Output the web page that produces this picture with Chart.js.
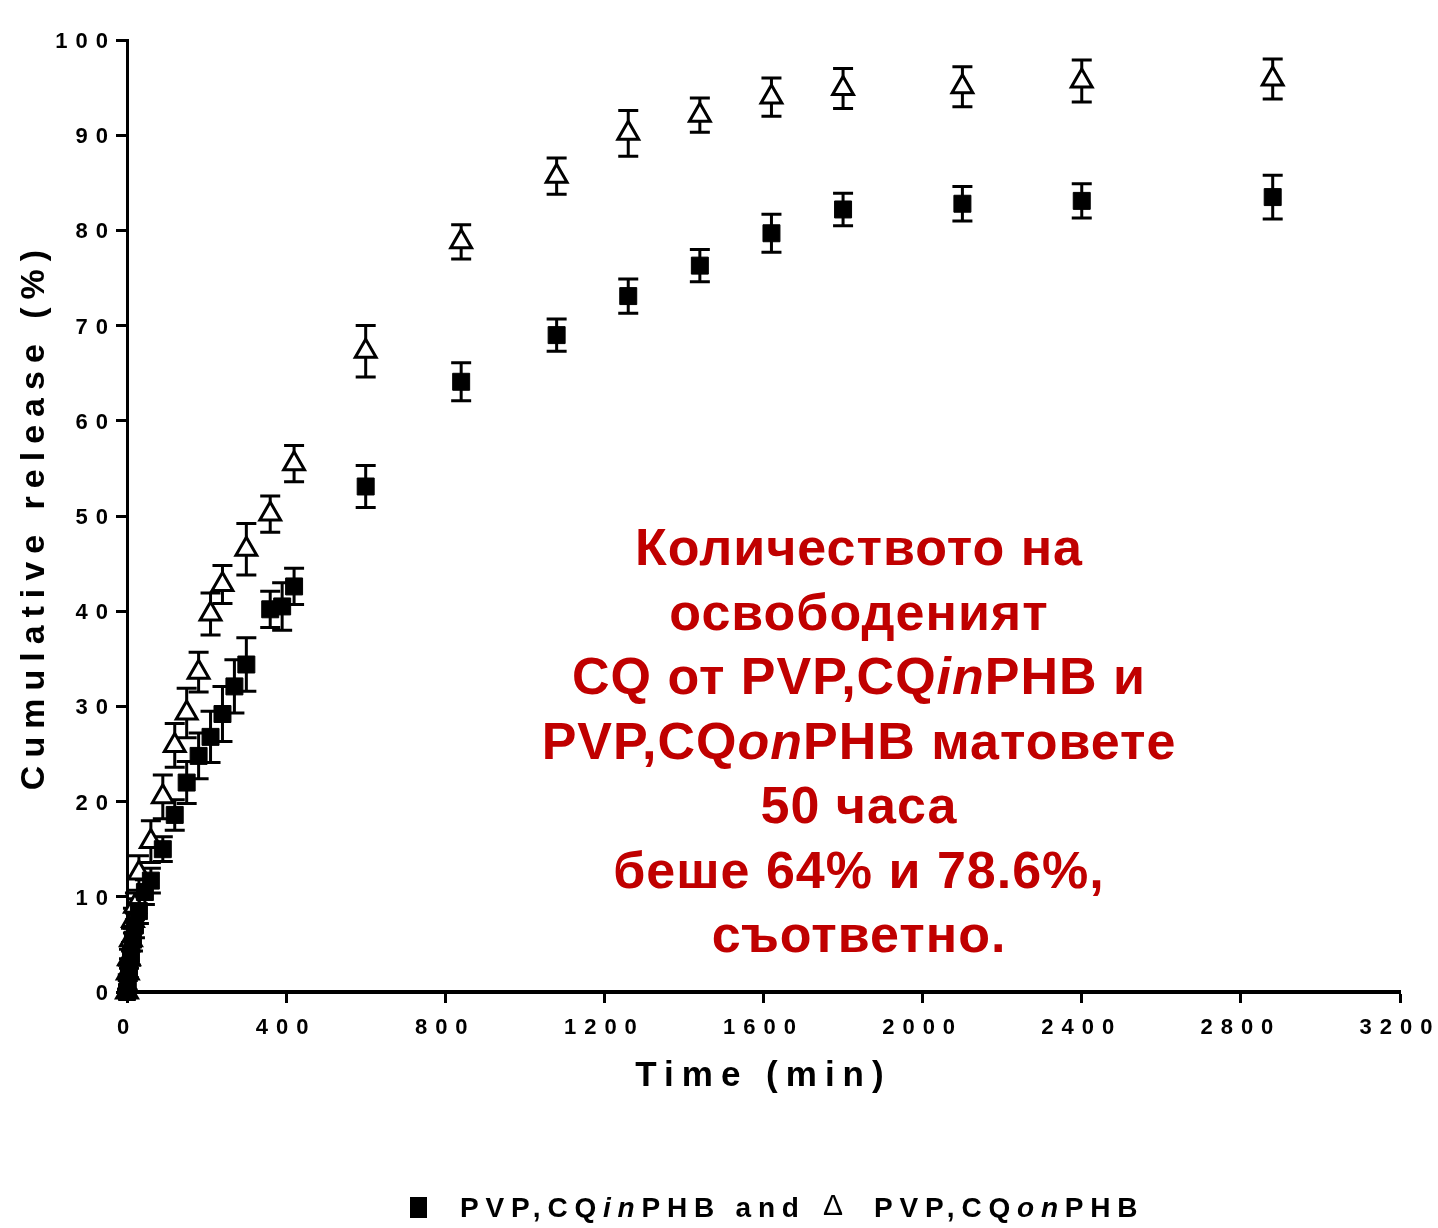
<!DOCTYPE html>
<html>
<head>
<meta charset="utf-8">
<script src="https://cdn.jsdelivr.net/npm/chart.js@4.4.1/dist/chart.umd.min.js"></script>
<style>
  html, body { margin: 0; padding: 0; background: #fff; }
  #wrap { position: relative; width: 1438px; height: 1228px; overflow: hidden; }
  #c { position: absolute; left: 0; top: 0; }
  #note {
    position: absolute; left: 459px; top: 515px; width: 800px;
    text-align: center; font-family: "Liberation Sans", Arial, sans-serif;
    font-weight: bold; font-size: 52px; line-height: 64.5px; letter-spacing: 1px; color: #C00000;
  }
  .leg {
    position: absolute; top: 1194px; font-family: "Liberation Sans", Arial, sans-serif;
    font-weight: bold; font-size: 28px; line-height: 28px; letter-spacing: 6.8px; color: #000; white-space: nowrap;
  }
  #legSq { position: absolute; left: 410px; top: 1197px; width: 17px; height: 21px; background: #000; }
  #legTri { position: absolute; left: 823px; top: 1190px; font-family: "Liberation Sans", Arial, sans-serif;
    font-size: 30px; line-height: 30px; color: #000; }
</style>
</head>
<body>
<div id="wrap">
  <canvas id="c" width="1438" height="1228"></canvas>
  <div id="note">Количеството на<br>освободеният<br>CQ от PVP,CQ<i>in</i>PHB и<br>PVP,CQ<i>on</i>PHB матовете<br>50 часа<br>беше 64% и 78.6%,<br>съответно.</div>
  <div id="legSq"></div>
  <div class="leg" style="left:460px">PVP,CQ<i>in</i>PHB and</div>
  <div id="legTri">Δ</div>
  <div class="leg" style="left:874px">PVP,CQ<i>on</i>PHB</div>
</div>
<script>
// ---- Data ----
const timesIn   = [0, 2, 5, 10, 15, 20, 30, 45, 60, 90, 120, 150, 180, 210, 240, 270, 300, 360, 390, 420, 600, 840, 1080, 1260, 1440, 1620, 1800, 2100, 2400, 2880];
const releaseIn = [0, 1.0, 2.5, 4.0, 5.5, 7.0, 8.5, 10.5, 11.7, 15.0, 18.6, 22.0, 24.8, 26.8, 29.2, 32.1, 34.4, 40.2, 40.5, 42.6, 53.1, 64.1, 69.0, 73.1, 76.3, 79.7, 82.2, 82.8, 83.1, 83.5];
const errorIn   = [0.3, 0.8, 1.0, 1.2, 1.2, 1.3, 1.3, 1.3, 1.3, 1.3, 1.6, 2.2, 2.4, 2.7, 2.9, 2.8, 2.8, 1.9, 2.5, 1.9, 2.2, 2.0, 1.7, 1.8, 1.7, 2.0, 1.7, 1.8, 1.8, 2.3];

const timesOn   = [0, 2, 5, 10, 15, 20, 30, 60, 90, 120, 150, 180, 210, 240, 300, 360, 420, 600, 840, 1080, 1260, 1440, 1620, 1800, 2100, 2400, 2880];
const releaseOn = [0, 2.0, 3.5, 5.5, 7.5, 9.0, 12.5, 15.8, 20.5, 25.9, 29.3, 33.6, 39.7, 42.8, 46.5, 50.2, 55.5, 67.3, 78.8, 85.7, 90.2, 92.1, 94.0, 94.9, 95.1, 95.7, 95.9];
const errorOn   = [0.3, 0.8, 1.0, 1.2, 1.3, 1.4, 1.8, 2.2, 2.3, 2.3, 2.6, 2.1, 2.2, 2.0, 2.7, 1.9, 1.9, 2.7, 1.8, 1.9, 2.4, 1.8, 2.0, 2.1, 2.1, 2.2, 2.1];

const xTicks = [0, 400, 800, 1200, 1600, 2000, 2400, 2800, 3200];
const yTicks = [0, 10, 20, 30, 40, 50, 60, 70, 80, 90, 100];
const xTitle = 'Time (min)';
const yTitle = 'Cumulative release (%)';
const seriesNames = ['PVP,CQinPHB', 'PVP,CQonPHB'];

const toPoints = (t, v, e) => t.map((x, i) => ({ x: x, y: v[i], err: e[i] }));

const FONT = '"Liberation Sans", Arial, sans-serif';
const SPACING = '8px';

const spacingPlugin = {
  id: 'spacing',
  beforeUpdate(chart) { chart.ctx.letterSpacing = SPACING; },
  beforeLayout(chart) { chart.ctx.letterSpacing = SPACING; },
  beforeDraw(chart) { chart.ctx.letterSpacing = SPACING; },
  afterDraw(chart) { chart.ctx.letterSpacing = '0px'; }
};

const errorBars = {
  id: 'errorBars',
  beforeDatasetsDraw(chart) {
    const { ctx, scales } = chart;
    const xs = scales.x, ys = scales.y;
    ctx.save();
    ctx.strokeStyle = '#000';
    ctx.lineWidth = 3;
    const half = 10;
    chart.data.datasets.forEach(ds => {
      ds.data.forEach(p => {
        const px = xs.getPixelForValue(p.x);
        const top = ys.getPixelForValue(p.y + p.err);
        const bot = ys.getPixelForValue(Math.max(0, p.y - p.err));
        ctx.beginPath();
        ctx.moveTo(px, top); ctx.lineTo(px, bot);
        ctx.moveTo(px - half, top); ctx.lineTo(px + half, top);
        ctx.moveTo(px - half, bot); ctx.lineTo(px + half, bot);
        ctx.stroke();
      });
    });
    ctx.restore();
  }
};

new Chart(document.getElementById('c'), {
  type: 'scatter',
  data: {
    datasets: [
      {
        label: seriesNames[0],
        data: toPoints(timesIn, releaseIn, errorIn),
        pointStyle: 'rect',
        pointRadius: 12,
        pointBackgroundColor: '#000',
        pointBorderColor: '#000',
        pointBorderWidth: 1,
        showLine: false,
        clip: false
      },
      {
        label: seriesNames[1],
        data: toPoints(timesOn, releaseOn, errorOn),
        pointStyle: 'triangle',
        pointRadius: 12,
        pointBackgroundColor: '#fff',
        pointBorderColor: '#000',
        pointBorderWidth: 3,
        showLine: false,
        clip: false
      }
    ]
  },
  options: {
    responsive: false,
    animation: false,
    events: [],
    layout: { padding: { left: 0, top: 40, right: 38, bottom: 126 } },
    plugins: { legend: { display: false }, tooltip: { enabled: false } },
    scales: {
      x: {
        type: 'linear',
        min: xTicks[0], max: xTicks[xTicks.length - 1],
        afterBuildTicks(scale) { scale.ticks = xTicks.map(v => ({ value: v })); },
        afterFit(scale) { scale.height = 110; scale.paddingLeft = 0; scale.paddingRight = 0; },
        border: { display: true, color: '#000', width: 4 },
        grid: { drawOnChartArea: false, drawTicks: true, tickLength: 11, tickWidth: 3, tickColor: '#000', color: '#000' },
        ticks: {
          color: '#000', padding: 12, maxRotation: 0, autoSkip: false,
          font: { family: FONT, size: 22, weight: 'bold' },
          callback: v => String(v)
        },
        title: {
          display: true, text: xTitle, color: '#000',
          font: { family: FONT, size: 35, weight: 'bold' },
          padding: { top: 0, bottom: 5 }
        }
      },
      y: {
        type: 'linear',
        min: yTicks[0], max: yTicks[yTicks.length - 1],
        afterBuildTicks(scale) { scale.ticks = yTicks.map(v => ({ value: v })); },
        afterFit(scale) { scale.width = 127; scale.paddingTop = 0; scale.paddingBottom = 0; },
        border: { display: true, color: '#000', width: 3 },
        grid: { drawOnChartArea: false, drawTicks: true, tickLength: 11, tickWidth: 3, tickColor: '#000', color: '#000' },
        ticks: {
          color: '#000', padding: 0, autoSkip: false, labelOffset: 2,
          font: { family: FONT, size: 22, weight: 'bold' },
          callback: v => String(v)
        },
        title: {
          display: true, text: yTitle, color: '#000',
          font: { family: FONT, size: 34, weight: 'bold' },
          padding: { top: 14, bottom: 0 }
        }
      }
    }
  },
  plugins: [spacingPlugin, errorBars]
});
</script>
</body>
</html>
